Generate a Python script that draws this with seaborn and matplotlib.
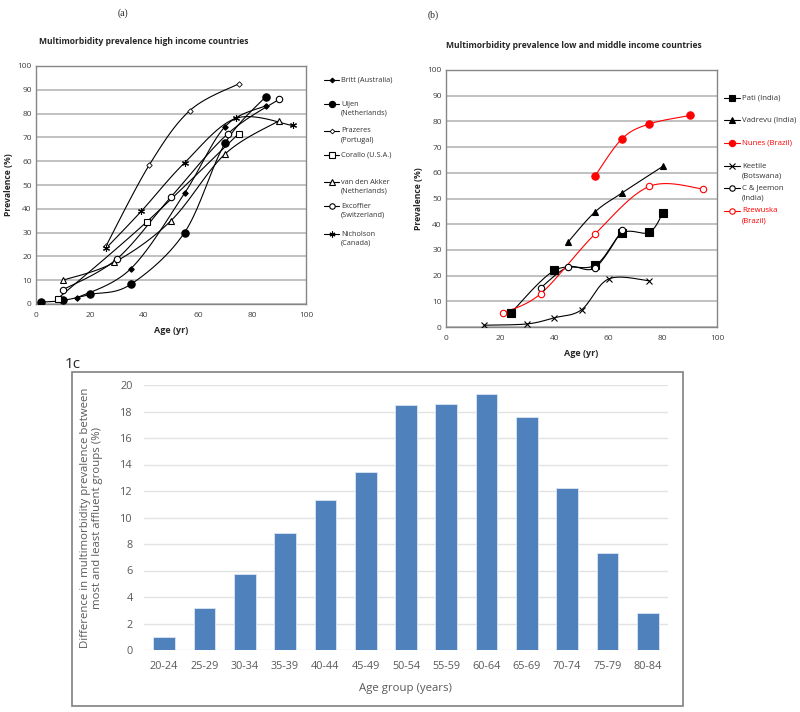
import numpy as np
import pandas as pd
import matplotlib
matplotlib.use("Agg")
import matplotlib.pyplot as plt
from matplotlib.patches import Rectangle
from matplotlib.lines import Line2D
import seaborn as sns

sns.set_theme(style="white")
plt.rcParams['font.family'] = ['Open Sans', 'DejaVu Sans']

# ---------------- data: panel (a) high income ----------------
britt_x = [15, 35, 55, 70, 85]
britt_y = [2.5, 14.7, 46.5, 74.5, 83.3]
uijen_x = [2, 10, 20, 35, 55, 70, 85]
uijen_y = [0.8, 1.5, 4.0, 8.2, 30.0, 67.5, 87.0]
prazeres_x = [26, 42, 57, 75]
prazeres_y = [24.5, 58.5, 81.3, 92.5]
corallo_x = [8, 41, 75]
corallo_y = [2.2, 34.5, 71.5]
akker_x = [10, 29, 50, 70, 90]
akker_y = [10.0, 17.5, 35.0, 63.0, 77.0]
excoffier_x = [10, 30, 50, 71, 90]
excoffier_y = [6.0, 19.0, 45.0, 71.5, 86.0]
nicholson_x = [26, 39, 55, 74, 95]
nicholson_y = [23.5, 39.0, 59.3, 78.0, 75.0]

# ---------------- data: panel (b) low/middle income ----------------
pati_x = [24, 40, 55, 65, 75, 80]
pati_y = [5.5, 22.0, 24.0, 36.5, 36.8, 44.3]
vadrevu_x = [45, 55, 65, 80]
vadrevu_y = [33.0, 44.8, 52.2, 62.5]
nunes_x = [55, 65, 75, 90]
nunes_y = [58.8, 73.3, 79.0, 82.3]
keetile_x = [14, 30, 40, 50, 60, 75]
keetile_y = [0.7, 1.2, 3.6, 6.7, 18.7, 18.0]
jeemon_x = [35, 45, 55, 65]
jeemon_y = [15.3, 23.3, 23.1, 37.8]
rzewuska_x = [21, 35, 55, 75, 95]
rzewuska_y = [5.5, 13.0, 36.2, 54.7, 53.7]

# ---------------- data: panel (c) ----------------
age_groups = ["20-24", "25-29", "30-34", "35-39", "40-44", "45-49", "50-54",
              "55-59", "60-64", "65-69", "70-74", "75-79", "80-84"]
difference = [1.0, 3.2, 5.7, 8.85, 11.35, 13.4, 18.5, 18.6, 19.35, 17.6,
              12.25, 7.35, 2.8]

W, H = 800.0, 712.0


def fx(px):
    return px / W


def fy(py):
    return 1.0 - py / H


def smooth(xs, ys, n=30):
    """Excel-style smoothed line (Bezier through the points)."""
    P = np.column_stack([xs, ys]).astype(float)
    m = len(P)
    if m < 3:
        return P[:, 0], P[:, 1]
    out = []
    for i in range(m - 1):
        p0 = P[i - 1] if i > 0 else P[i]
        p1 = P[i]
        p2 = P[i + 1]
        p3 = P[i + 2] if i + 2 < m else P[i + 1]
        c1 = p1 + (p2 - p0) / 6.0
        c2 = p2 - (p3 - p1) / 6.0
        t = np.linspace(0, 1, n)[:, None]
        seg = ((1 - t) ** 3) * p1 + 3 * ((1 - t) ** 2) * t * c1 + 3 * (1 - t) * t ** 2 * c2 + t ** 3 * p2
        out.append(seg if i == 0 else seg[1:])
    S = np.vstack(out)
    return S[:, 0], S[:, 1]


fig = plt.figure(figsize=(8.0, 7.12), dpi=100)

GRID = '#b0b0b0'
SPINE = '#868686'


def style_line_axes(ax):
    ax.set_xlim(0, 100)
    ax.set_ylim(0, 100)
    ax.set_xticks(range(0, 101, 20))
    ax.set_yticks(range(0, 101, 10))
    ax.yaxis.grid(True, color=GRID, linewidth=1.1)
    ax.xaxis.grid(False)
    ax.set_axisbelow(True)
    for s in ax.spines.values():
        s.set_color(SPINE)
        s.set_linewidth(1.0)
    ax.tick_params(axis='both', labelsize=6, colors='#404040', length=0)
    ax.tick_params(axis='x', pad=6)
    ax.tick_params(axis='y', pad=3)
    ax.set_xlabel("Age (yr)", fontsize=6.5, fontweight='bold', labelpad=5)
    ax.set_ylabel("Prevalence (%)", fontsize=6.2, fontweight='bold', labelpad=3)


def draw_series(ax, xs, ys, marker, ms, mfc, color='black', mew=0.8):
    sx, sy = smooth(xs, ys)
    df = pd.DataFrame({'x': sx, 'y': sy})
    sns.lineplot(data=df, x='x', y='y', ax=ax, color=color, linewidth=0.8,
                 sort=False, estimator=None)
    ax.plot(xs, ys, linestyle='none', marker=marker, markersize=ms,
            markerfacecolor=mfc, markeredgecolor=color, markeredgewidth=mew, zorder=4)
    return dict(marker=marker, ms=ms, mfc=mfc, color=color, mew=mew)


def legend_entry(spec, lines, ys, x0, x1, xt, fs, tcolor):
    yc = fy(ys[0])
    fig.add_artist(Line2D([fx(x0), fx(x1)], [yc, yc], transform=fig.transFigure,
                          color=spec['color'], linewidth=0.8))
    fig.add_artist(Line2D([fx((x0 + x1) / 2)], [yc], transform=fig.transFigure,
                          linestyle='none', marker=spec['marker'], markersize=spec['ms'] * 0.85,
                          markerfacecolor=spec['mfc'], markeredgecolor=spec['color'],
                          markeredgewidth=spec['mew']))
    for ln, yy in zip(lines, ys):
        fig.text(fx(xt), fy(yy), ln, fontsize=fs, color=tcolor, ha='left', va='center')


# ---------------- panel (a) ----------------
axa = fig.add_axes([fx(36), fy(304), fx(306) - fx(36), fy(66) - fy(304)])
style_line_axes(axa)
sa = []
sa.append(draw_series(axa, britt_x, britt_y, 'D', 2.8, 'black'))
sa.append(draw_series(axa, uijen_x, uijen_y, 'o', 5.3, 'black'))
sa.append(draw_series(axa, prazeres_x, prazeres_y, 'D', 2.8, 'white', mew=0.6))
sa.append(draw_series(axa, corallo_x, corallo_y, 's', 4.5, 'white'))
sa.append(draw_series(axa, akker_x, akker_y, '^', 4.5, 'white'))
sa.append(draw_series(axa, excoffier_x, excoffier_y, 'o', 4.6, 'white'))
sa.append(draw_series(axa, nicholson_x, nicholson_y, (6, 2, 0), 5, 'black'))
labels_a = [["Britt (Australia)"], ["Uijen", "(Netherlands)"], ["Prazeres", "(Portugal)"],
            ["Corallo (U.S.A.)"], ["van den Akker", "(Netherlands)"], ["Excoffier", "(Switzerland)"],
            ["Nicholson", "(Canada)"]]
ypos_a = [[80], [104, 113], [131, 140], [155], [182, 191], [206, 215], [234, 243]]
for spec, lab, yy in zip(sa, labels_a, ypos_a):
    legend_entry(spec, lab, yy, 324, 339, 341, 5.3, '#333333')
fig.text(fx(39), fy(42), "Multimorbidity prevalence high income countries",
         fontsize=6.1, fontweight='bold', ha='left', va='center')
fig.text(fx(123), fy(13), "(a)", fontsize=7, ha='center', va='center',
         family=['Liberation Serif', 'DejaVu Serif'])

# ---------------- panel (b) ----------------
axb = fig.add_axes([fx(446), fy(327), fx(717) - fx(446), fy(70) - fy(327)])
style_line_axes(axb)
RED = '#ff0000'
sb = []
sb.append(draw_series(axb, pati_x, pati_y, 's', 5.3, 'black'))
sb.append(draw_series(axb, vadrevu_x, vadrevu_y, '^', 4.8, 'black'))
sb.append(draw_series(axb, nunes_x, nunes_y, 'o', 5.3, RED, color=RED))
sb.append(draw_series(axb, keetile_x, keetile_y, 'x', 4.5, 'black'))
sb.append(draw_series(axb, jeemon_x, jeemon_y, 'o', 4.6, 'white'))
sb.append(draw_series(axb, rzewuska_x, rzewuska_y, 'o', 4.6, 'white', color=RED))
labels_b = [["Pati (India)"], ["Vadrevu (India)"], ["Nunes (Brazil)"], ["Keetile", "(Botswana)"],
            ["C & Jeemon", "(India)"], ["Rzewuska", "(Brazil)"]]
ypos_b = [[98], [120], [143], [166, 176], [188, 198], [211, 221]]
tcol_b = ['#333333', '#333333', RED, '#333333', '#333333', RED]
for spec, lab, yy, tc in zip(sb, labels_b, ypos_b, tcol_b):
    legend_entry(spec, lab, yy, 724, 740, 742, 5.6, tc)
fig.text(fx(446), fy(46), "Multimorbidity prevalence low and middle income countries",
         fontsize=6.1, fontweight='bold', ha='left', va='center')
fig.text(fx(433), fy(15), "(b)", fontsize=7, ha='center', va='center',
         family=['Liberation Serif', 'DejaVu Serif'])

# ---------------- panel (c) ----------------
box = Rectangle((fx(72), fy(706)), fx(683) - fx(72), fy(372) - fy(706), transform=fig.transFigure,
                fill=False, edgecolor='#808080', linewidth=1.2)
fig.add_artist(box)
fig.text(fx(73), fy(365), "1c", fontsize=11, ha='center', va='center')

axc = fig.add_axes([fx(144), fy(650), fx(668) - fx(144), fy(385) - fy(650)])
dfc = pd.DataFrame({'age': age_groups, 'diff': difference})
sns.barplot(data=dfc, x='age', y='diff', ax=axc, color='#4f81bd', saturation=1,
            width=0.54, edgecolor='#dce6f2', linewidth=0.6)
axc.set_xlim(-0.5, 12.5)
axc.set_ylim(0, 20)
axc.set_yticks(range(0, 21, 2))
axc.yaxis.grid(True, color='#e3e3e3', linewidth=1.0)
axc.set_axisbelow(True)
for s in axc.spines.values():
    s.set_visible(False)
axc.tick_params(axis='both', labelsize=7.8, colors='#595959', length=0, pad=8)
axc.set_xlabel("Age group (years)", fontsize=8.2, color='#595959')
axc.xaxis.set_label_coords((405 - 144) / 524.0, -(683 - 650) / 265.0)
axc.set_ylabel("Difference in multimorbidity prevalence between\nmost and least affluent groups (%)",
               fontsize=8.2, color='#595959', linespacing=1.15)
axc.yaxis.set_label_coords(-(144 - 103) / 524.0, (650 - 518) / 265.0)

fig.savefig("out.png", dpi=100, facecolor='white')
